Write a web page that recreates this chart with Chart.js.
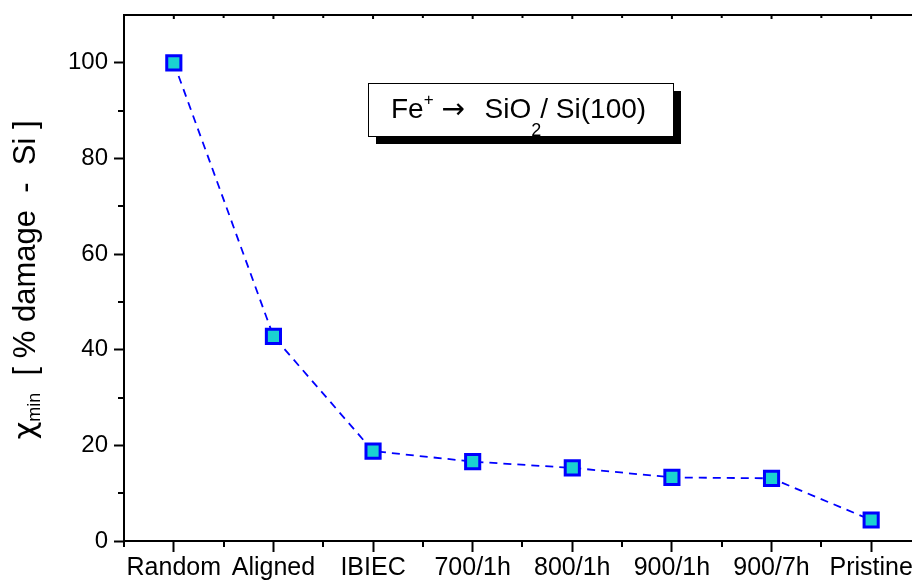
<!DOCTYPE html>
<html lang="en">
<head>
    <meta charset="UTF-8">
    <title>Channeling damage</title>
    <script src="https://cdn.jsdelivr.net/npm/chart.js"></script>
    <style>
        body { margin: 0; background: #fff; }
        #wrap { width: 912px; height: 581px; }
    </style>
</head>
<body>
    <div id="wrap"><canvas id="damageChart" width="912" height="581"></canvas></div>

    <script>
        // Sample conditions and chi_min values (% damage in Si)
        const categories = ["Random", "Aligned", "IBIEC", "700/1h", "800/1h", "900/1h", "900/7h", "Pristine"];
        const damage = [100, 42.8, 18.8, 16.6, 15.3, 13.3, 13.1, 4.4];
        const yMajorTicks = [0, 20, 40, 60, 80, 100];
        const yMinorTicks = [10, 30, 50, 70, 90];

        const FONT = "'Liberation Sans', Arial, sans-serif";

        // minor ticks, top frame line, y title and the label box
        const decorations = {
            id: "decorations",
            afterDraw(chart) {
                const ctx = chart.ctx;
                const area = chart.chartArea;
                const xs = chart.scales.x;
                const ys = chart.scales.y;
                ctx.save();
                ctx.strokeStyle = "#000";
                ctx.lineWidth = 2;

                // minor ticks on the bottom axis (between categories)
                ctx.beginPath();
                for (let i = 0; i <= categories.length; i++) {
                    const px = Math.round(xs.getPixelForValue(i + 0.5));
                    ctx.moveTo(px, area.bottom);
                    ctx.lineTo(px, area.bottom + 6);
                }
                // minor ticks on the left axis
                yMinorTicks.forEach(v => {
                    const py = Math.round(ys.getPixelForValue(v));
                    ctx.moveTo(area.left, py);
                    ctx.lineTo(area.left - 6, py);
                });
                ctx.stroke();

                // top frame with small inward ticks
                ctx.beginPath();
                ctx.moveTo(area.left, area.top);
                ctx.lineTo(area.right, area.top);
                for (let i = 0; i <= categories.length; i++) {
                    const pMaj = xs.getPixelForValue(i + 1);
                    const pMin = xs.getPixelForValue(i + 0.5);
                    ctx.moveTo(pMaj, area.top);
                    ctx.lineTo(pMaj, area.top + 4);
                    ctx.moveTo(pMin, area.top);
                    ctx.lineTo(pMin, area.top + 3);
                }
                ctx.stroke();

                // y axis title: chi_min [ % damage - Si ]
                ctx.fillStyle = "#000";
                ctx.translate(35, 280);
                ctx.rotate(-Math.PI / 2);
                ctx.textBaseline = "alphabetic";
                const parts = [
                    { t: "\u03C7", size: 31, dy: 0, fam: "'DejaVu Sans', sans-serif" },
                    { t: "min", size: 18, dy: 5 },
                    { t: "  [ % damage  -  Si ]", size: 31, dy: 0 }
                ];
                let total = 0;
                parts.forEach(p => {
                    ctx.font = p.size + "px " + (p.fam || FONT);
                    p.w = ctx.measureText(p.t).width;
                    total += p.w;
                });
                let tx = -total / 2;
                parts.forEach(p => {
                    ctx.font = p.size + "px " + (p.fam || FONT);
                    ctx.fillText(p.t, tx, p.dy);
                    tx += p.w;
                });
                ctx.restore();

                // annotation box with drop shadow
                ctx.save();
                const bx = 368, by = 83, bw = 305, bh = 53;
                ctx.fillStyle = "#000";
                ctx.fillRect(bx + 8, by + 8, bw, bh);
                ctx.fillStyle = "#fff";
                ctx.fillRect(bx, by, bw, bh);
                ctx.strokeStyle = "#000";
                ctx.lineWidth = 1;
                ctx.strokeRect(bx + 0.5, by + 0.5, bw, bh);

                ctx.fillStyle = "#000";
                ctx.textBaseline = "alphabetic";
                let x = 391;
                const base = 118;
                const put = (t, size, dy, fam) => {
                    ctx.font = size + "px " + (fam || FONT);
                    ctx.fillText(t, x, base + dy);
                    return ctx.measureText(t).width;
                };
                x += put("Fe", 28, 0);
                x += put("+", 17, -13);
                x += 8;
                x += put("\u2192", 28, 0, "'DejaVu Sans', sans-serif");
                x += 4;
                x += put("  SiO", 28, 0);
                put("2", 18, 18);
                x += 9;
                x += put("/ Si(100)", 28, 0);
                ctx.restore();
            }
        };

        new Chart(document.getElementById("damageChart"), {
            type: "line",
            data: {
                datasets: [{
                    data: damage.map((v, i) => ({ x: i + 1, y: v })),
                    borderColor: "#0000ff",
                    borderWidth: 1.8,
                    borderDash: [8, 6],
                    tension: 0,
                    pointStyle: "rect",
                    pointRadius: 10,
                    pointBorderWidth: 3,
                    pointBackgroundColor: "#1ad1d1",
                    pointBorderColor: "#0000ff",
                    clip: false
                }]
            },
            options: {
                responsive: false,
                animation: false,
                layout: { autoPadding: false, padding: { top: 15, right: 0, left: 0, bottom: 0 } },
                plugins: {
                    legend: { display: false },
                    tooltip: { enabled: false }
                },
                scales: {
                    x: {
                        type: "linear",
                        position: "bottom",
                        min: 0.5,
                        max: 8.41,
                        afterBuildTicks: s => { s.ticks = categories.map((c, i) => ({ value: i + 1 })); },
                        afterFit: s => { s.height = 40; s.paddingLeft = 0; s.paddingRight = 0; },
                        ticks: {
                            callback: (v, i) => categories[i],
                            autoSkip: false,
                            maxRotation: 0,
                            padding: 1,
                            color: "#000",
                            font: { family: FONT, size: 25 }
                        },
                        grid: {
                            drawOnChartArea: false,
                            tickLength: 11,
                            tickWidth: 2,
                            tickColor: "#000"
                        },
                        border: { color: "#000", width: 2 }
                    },
                    y: {
                        min: 0,
                        max: 110,
                        afterBuildTicks: s => { s.ticks = yMajorTicks.map(v => ({ value: v })); },
                        afterFit: s => { s.width = 124; s.paddingTop = 0; s.paddingBottom = 0; },
                        ticks: {
                            padding: 6,
                            color: "#000",
                            font: { family: FONT, size: 24 }
                        },
                        grid: {
                            drawOnChartArea: false,
                            tickLength: 10,
                            tickWidth: 2,
                            tickColor: "#000"
                        },
                        border: { color: "#000", width: 2 }
                    }
                }
            },
            plugins: [decorations]
        });
    </script>
</body>
</html>
